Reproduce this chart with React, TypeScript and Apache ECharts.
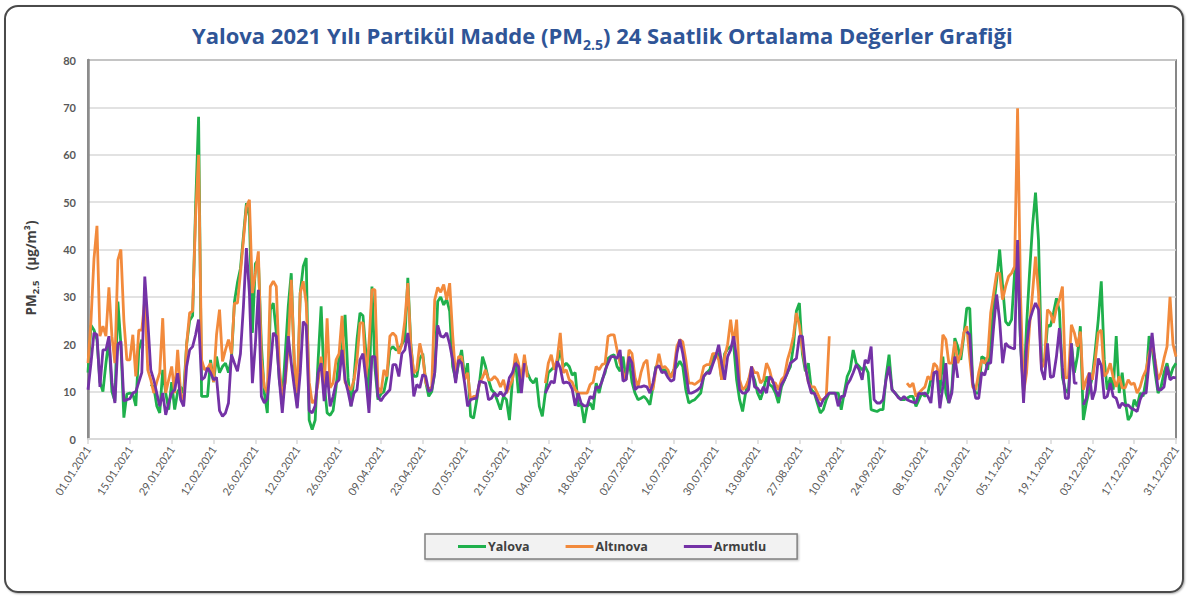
import React, { useEffect, useRef } from "react";
import * as echarts from "echarts";

// Daily categories 01.01.2021 ... 31.12.2021
const categories: string[] = Array.from({ length: 365 }, (_, i) => {
  const d = new Date(Date.UTC(2021, 0, 1 + i));
  const dd = String(d.getUTCDate()).padStart(2, "0");
  const mm = String(d.getUTCMonth() + 1).padStart(2, "0");
  return `${dd}.${mm}.2021`;
});

const yTicks = [0, 10, 20, 30, 40, 50, 60, 70, 80];

const yalova: (number | null)[] = [
  14, 24, 23, 21, 12, 10, 16, 21, 10, 8,
  29, 20, 4.5, 9.5, 9.7, 9.5, 7, 18.8, 21, null,
  null, 11.5, 11, 7, 5.5, 14.6, 9.7, 6.2, 12, 6.2,
  10, 11, 9.7, 20, 25, 26, 49, 68, 9, 9,
  9, 16.7, 12, 17.4, 14, 15.3, 16, 14, 17, 29,
  33, 36, 42.8, 49.8, 47, 22.4, 37, 37.8, 20, 9.7,
  5.5, 27.3, 28.7, 22.4, 12.5, 8.3, 18, 28, 35, 16,
  6.9, 30.8, 36.4, 38.2, 4, 2, 4, 16.7, 28, 12,
  5.5, 5, 6, 11, 17.4, 19, 26.2, 13, 6.9, 13,
  21, 26.6, 26, 18, 8, 32.2, 15, 8.3, 9.5, 10,
  13, 18.8, 19.5, 18.8, 18.8, 20, 21, 34, 20, 13.2,
  13.2, 17, 18, 12, 9, 10, 14, 29, 30, 28.3,
  29.5, 27, 15.3, 12.5, 16, 18.8, 13, 16, 4.8, 4.4,
  8, 12, 17.4, 15.3, 12.5, 10.4, 9.7, 8, 6.2, 9,
  8.3, 4, 12.5, 16.7, 9.7, 12.5, 16.7, 14, 12.5, 11.8,
  12.9, 6.9, 4.8, 9.7, 14, 14.6, 15.3, 16, 18.8, 15.3,
  16, 15.3, 13.5, 14, 6.9, 7.6, 3.4, 6.9, 7.6, 6.2,
  11.8, 9.7, 12.5, 14, 17, 17.5, 17.8, 15.3, 14.3, 17.4,
  12.5, 16.7, 12, 9.7, 8.3, 8.6, 9, 8.3, 7.2, 11,
  15.3, 15.3, 14.6, 14.6, 14, 13.2, 14.6, 15.3, 16.4, 15.3,
  10.4, 7.6, 8, 8.3, 9, 9.7, 13.2, 14, 14.6, 16.7,
  18, 18, 12.5, 18, 19, 19.5, 20, 12.5, 8.3, 5.8,
  9.7, 12.5, 14, 12.5, 9.7, 8.3, 10.4, 13.2, 11.5, 11,
  9.7, 7.6, 11, 12.5, 14, 15.3, 19.5, 27, 28.7, 18,
  14.3, 16, 10.4, 9.7, 7.6, 5.5, 6.2, 8.3, 9.7, 9.7,
  9.7, 9.7, 6.2, 9.7, 13.2, 14.6, 18.8, 16, 15.3, 14.6,
  15.3, 14, 6.2, 6, 5.8, 6.2, 6.2, 13.2, 17.8, 10.4,
  9.7, 9, 8.3, 8.3, 8.6, 9, 9, 6.9, 8.3, 9.7,
  9, 9.7, 12.5, 14, 14, 9.7, 17.4, 9.7, 7.6, 10.4,
  21.3, 19.5, 16.7, 21.7, 27.6, 27.6, 11.8, 9.7, 9.7, 17.4,
  17, 14.6, 21, 28, 33.6, 40, 32.2, 24.8, 24, 25.2,
  35, 38, 20, 9.7, 23.8, 35, 45, 52, 42, 17,
  16, 24, 23.8, 26.6, 29.7, 27, 13, 10.4, 9.7, 20.2,
  14, 17.4, 23.8, 4, 7.6, 10.4, 13, 18.8, 25.2, 33.3,
  16.7, 10.4, 13, 10.4, 21.7, 9.7, 14, 8, 4, 5,
  8.3, 6.9, 9.7, 9, 12.5, 21.7, 19.5, 14, 9.7, 11,
  14, 16, 13, 15, 16,
];

const altinova: (number | null)[] = [
  16, 25, 38, 45, 21.7, 23.8, 21.7, 32, 21.7, 16,
  37.8, 40, 25, 16.7, 16.7, 22, 13.2, 23, 23, 29.4,
  14.6, 12.5, 9.7, 12, 14, 25.5, 9.7, 12.5, 15.3, 9.7,
  18.8, 9.7, 7.6, 20, 26.6, 27, 47, 60, 16.7, 14.6,
  15, 16, 12, 22, 27.3, 16.4, 18.8, 21, 18, 28.7,
  28.7, 35, 42, 49, 50.5, 30.8, 35, 39.6, 16.7, 11,
  9.7, 32.2, 33.3, 32.2, 15.3, 9, 12, 19.5, 33.6, 16.7,
  9.7, 30.8, 33.3, 28.7, 12, 7.6, 8.3, 12, 17.4, 9.7,
  25.5, 10.8, 11.8, 16.7, 18, 26, 12, 11, 10.4, 12.5,
  16.7, 24.5, 24.5, 13, 20, 31.5, 31.5, 11, 9.7, 14.6,
  13.2, 21.7, 22.4, 21.7, 18, 20, 25, 32.9, 19.5, 13.9,
  14.6, 20.2, 17.4, 12, 10.4, 11, 29.4, 32, 31, 32.6,
  29.4, 32.9, 22, 13.2, 17.4, 17.4, 12.5, 14, 8.3, 9,
  9, 11.8, 13, 14.6, 12.5, 12.5, 13.2, 12.5, 11, 12.5,
  9.7, 11, 12.5, 18, 16, 12.5, 17.8, 13, null, null,
  null, null, null, 11.8, 16, 17.8, 14.6, 17, 22.4, 14,
  14.6, 12.5, 12, 10.4, 9.7, 9.7, 9.7, 9.7, 11.5, 12,
  15.3, 14.6, 15.7, 16, 21.7, 22, 22, 18.8, 16, 14,
  12.5, 18.8, 18, 13, 11, 14, 16, 16.7, 11, 10.4,
  14.6, 18, 15, 15.3, 14.6, 12.9, 14.6, 19.5, 21, 20.5,
  16.7, 11.8, 11.8, 11.5, 12, 12.5, 15.3, 15.7, 15.7, 18,
  18, 16.7, 12.5, 17.4, 20, 25.2, 20, 25.2, 12.5, 10.4,
  11, 12.5, 15.3, 14, 14, 11.8, 12.5, 16, 14.6, 12,
  11.8, 10.4, 12.5, 13.2, 16.7, 18.8, 21.7, 26.6, 24, 19,
  15.3, 12, 11, 11, 9.7, 8.3, 8.3, 9, 21.7, null,
  null, null, null, null, null, null, null, null, null, null,
  null, null, null, null, null, null, null, null, null, null,
  null, null, null, null, 11.8, 11, 11.8, 9, 9.7, 10.4,
  11, 13.2, 12.5, 16, 15.3, 12.5, 22, 21, 16, 16,
  20.6, 16, 18, 22.4, 23.8, 17, 11, 10.4, 14, 16.7,
  16, 17.4, 26.6, 30.8, 35, 35, 29.4, 32.2, 34.3, 35,
  36.4, 69.8, 30, 9.7, 14, 23.8, 30.8, 38.5, 30.8, 15,
  16, 27.3, 26.6, 24.5, 27.6, 29.4, 32.2, 12.9, 13, 24.1,
  22.4, 19.5, 22.7, 10.4, 12.5, 14, 12.5, 16.7, 22.4, 23,
  13.2, 14, 16, 13, 11, 13.2, 10.8, 10.8, 12.5, 11.5,
  11.8, 9.7, 11, 13.2, 14.6, 18, 20, 16.7, 12.5, 14,
  17, 19.5, 30, 20, 17.4,
];

const armutlu: (number | null)[] = [
  10.4, 16, 22.4, 22, 11, 18.8, 18.8, 21.7, 12, 7.6,
  20, 20.6, 8, 8.3, 8.5, 9.7, 10, 12, 14, 34.3,
  25, 14.6, 12.5, 9.7, 6.9, 9.7, 5.1, 7.6, 9.7, 10.4,
  13.9, 8.3, 6.9, 15.3, 18.8, 19.5, 22, 25.2, 12.5, 13,
  15, 14, 12.5, 13, 6, 4.8, 5.5, 7.6, 17.8, 16,
  14.3, 18, 28, 40.3, 30.8, 11.8, 20, 31.5, 9, 7.6,
  8.5, 15, 22.4, 21.7, 12.5, 5.5, 13, 21.7, 16, 11,
  6.5, 14, 24.8, 24, 6, 5.5, 7, 14, 16, 8,
  14.3, 6.9, 9, 11.8, 12.5, 18.8, 12.5, 10, 6.9, 9.7,
  10.4, 16.7, 18, 12.5, 5.5, 17.4, 17.4, 9, 8, 9,
  9.7, 10.4, 15.7, 15.7, 13.2, 18, 18.8, 22.4, 17, 9,
  11.5, 10.8, 13.6, 13.2, 10, 10.4, 14, 24, 21.7, 21.5,
  22.4, 20, 16.7, 11.8, 16.7, 16, 11.8, 6.9, 8.3, 8.5,
  8.6, 12.2, 12, 11.8, 8.3, 8.6, 9.7, 9, 10, 9,
  10, 13, 14, 16, 15.3, 9.7, 16, null, null, null,
  null, null, null, 9.7, 11, 12.2, 11.8, 16.4, 15, 11.8,
  12, 11.8, 10.5, 7, 9.7, 7.5, 7, 7, 9, 8.5,
  11, 10.8, 12.2, 14.5, 16, 17.4, 17.4, 17, 18.8, 12.2,
  12.5, 17.4, 16, 10.4, 11, 11, 11.2, 11, 9.7, 11.8,
  15, 15.5, 14, 14.2, 13, 12.2, 12.5, 18, 21, 18,
  14, 9.7, 9.7, 10, 10.4, 11, 13.2, 14, 13.8, 15.7,
  17.4, 19.9, 16, 12.5, 17.4, 18.8, 21.7, 17, 10.4, 9.7,
  9.7, 10.4, 15.3, 11, 10.7, 9.7, 11, 9.7, 13.2, 12.5,
  10.4, 9, 11.5, 12.5, 14, 16, 16.5, 17, 21.7, 21.7,
  15.3, 12, 9.7, 9.7, 8.3, 6.9, 8.3, 9, 9.7, 9.7,
  9.7, 6.9, 9, 9, 11.5, 12.5, 14, 15.7, 14.6, 12.5,
  16.7, 16, 19.5, 8.3, 7.6, 7.6, 8.3, 12.5, 15.3, 10.4,
  9.7, 8.8, 8.3, 9, 8.3, 8, 7.8, 7.6, 9.7, 9.5,
  9.7, 9, 7.6, 14, 14.3, 6.5, 11, 16, 7.6, 9.7,
  17.4, 12.9, null, null, 22.7, 22, 11.8, 8.6, 8.6, 14,
  13.5, 16, 16, 23.8, 30.5, 25, 16, 20.2, 19.5, 19.2,
  19, 42, 20, 7.6, 19.5, 25, 27, 28.7, 27.3, 14.6,
  12.5, 20.2, 13, 13.2, 17.4, 23.4, 15, 8.6, 8.6, 20.2,
  11.8, 11.8, null, 7.2, 8.6, 14, 8.3, 10.4, 17, 15.5,
  8.6, 9, 11.8, 9, 8.6, 6.5, 7.6, 7, 7.2, 6.5,
  6.2, 5.8, 8.3, 9.7, 9.7, 16.4, 22.4, 16, 10.4, 10.4,
  11, 15.3, 12.5, 13, 12.9,
];

const seriesNames = ["Yalova", "Altınova", "Armutlu"];
const seriesColors = ["#1FB04C", "#F28A3C", "#7432A6"];

export default function App() {
  const ref = useRef<HTMLDivElement>(null);

  useEffect(() => {
    if (!ref.current) return;
    const chart = echarts.init(ref.current, undefined, { renderer: "svg" });
    const font = "Lato, 'Open Sans', sans-serif";
    const wide = "'Open Sans', Lato, sans-serif";
    const dataSets = [yalova, altinova, armutlu];
    chart.setOption({
      animation: false,
      textStyle: { fontFamily: font },
      title: {
        text: "{a|Yalova 2021 Yılı Partikül Madde (PM}{s|2.5}{a|) 24 Saatlik Ortalama Değerler Grafiği}",
        left: 187,
        top: 14,
        textStyle: {
          rich: {
            a: { fontSize: 22, fontWeight: "bold", color: "#2F5597", fontFamily: wide, lineHeight: 32 },
            s: { fontSize: 14, fontWeight: "bold", color: "#2F5597", fontFamily: wide, lineHeight: 13, verticalAlign: "bottom" },
          },
        },
      },
      legend: {
        data: seriesNames,
        left: 425,
        top: 534,
        icon: "rect",
        itemWidth: 28,
        itemHeight: 3,
        itemGap: 36,
        padding: [6, 31, 6, 33],
        backgroundColor: "#F2F2F2",
        borderColor: "#808080",
        borderWidth: 1.5,
        shadowColor: "rgba(0,0,0,0.25)",
        shadowBlur: 2,
        shadowOffsetX: 1,
        shadowOffsetY: 1,
        textStyle: { fontSize: 12.5, fontWeight: "bold", color: "#404040", fontFamily: wide, padding: [0, 0, 0, -3] },
      },
      grid: {
        left: 88,
        right: 13,
        top: 60,
        bottom: 159,
        show: true,
        borderColor: "#606060",
        borderWidth: 1.5,
      },
      xAxis: {
        type: "category",
        data: categories,
        boundaryGap: false,
        axisLine: { lineStyle: { color: "#D9D9D9", width: 2 } },
        axisTick: { interval: 13, length: 5, lineStyle: { color: "#D9D9D9", width: 1.5 } },
        axisLabel: {
          interval: 13,
          rotate: 57,
          fontSize: 11,
          color: "#595959",
          margin: 8,
          fontFamily: font,
        },
        splitLine: { show: false },
      },
      yAxis: {
        type: "value",
        min: yTicks[0],
        max: yTicks[yTicks.length - 1],
        interval: 10,
        axisLine: { show: true, lineStyle: { color: "#8C8C8C", width: 2.5 } },
        axisTick: { show: false },
        axisLabel: { fontSize: 11, fontWeight: "bold", color: "#595959", margin: 12, fontFamily: font },
        splitLine: { lineStyle: { color: "#D9D9D9", width: 1.5 } },
      },
      graphic: [
        {
          type: "text",
          x: 31,
          y: 268,
          rotation: Math.PI / 2,
          style: {
            text: "{a|PM}{s|2.5}{a|   (µg/m³)}",
            align: "center",
            verticalAlign: "middle",
            rich: {
              a: { fontSize: 13.5, fontWeight: "bold", fill: "#404040", fontFamily: wide, lineHeight: 19 },
              s: { fontSize: 9.5, fontWeight: "bold", fill: "#404040", fontFamily: wide, lineHeight: 9, verticalAlign: "bottom" },
            },
          },
        },
      ],
      series: dataSets.map((d, i) => ({
        name: seriesNames[i],
        type: "line",
        data: d,
        showSymbol: false,
        symbol: "none",
        connectNulls: false,
        lineStyle: { width: 2.8, color: seriesColors[i] },
        itemStyle: { color: seriesColors[i] },
        z: 2 + i,
      })),
    });
    return () => chart.dispose();
  }, []);

  return (
    <div style={{ position: "fixed", left: 0, top: 0, width: 1189, height: 598, background: "#fff" }}>
      <div
        style={{
          position: "absolute",
          left: 4,
          top: 5,
          width: 1176,
          height: 584,
          border: "2px solid #4A4A4A",
          borderRadius: 14,
          boxShadow: "1px 1px 2px rgba(0,0,0,0.3)",
        }}
      />
      <div ref={ref} style={{ position: "absolute", left: 0, top: 0, width: 1189, height: 598 }} />
    </div>
  );
}
